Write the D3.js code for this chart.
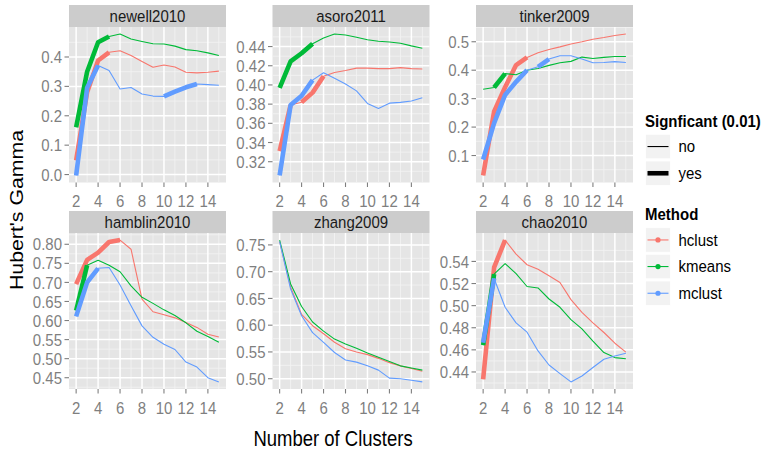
<!DOCTYPE html>
<html><head><meta charset="utf-8">
<script src="https://cdn.jsdelivr.net/npm/d3@7"></script>
<style>body{margin:0;background:#fff} svg{display:block} text{font-family:"Liberation Sans",Arial,Helvetica,sans-serif}</style>
</head><body><svg id="c" width="764" height="453"></svg>
<script>
// ---------- data ----------
const clusters = [2,3,4,5,6,7,8,9,10,11,12,13,14,15];
const studies = ["newell2010","asoro2011","tinker2009","hamblin2010","zhang2009","chao2010"];
const methods = ["hclust","kmeans","mclust"];
const methodColors = ["#F8766D","#00BA38","#619CFF"];
const sigLabels = ["no","yes"];

const newell2010_hclust = [0.048,0.28,0.388,0.416,0.421,0.405,0.385,0.365,0.373,0.366,0.348,0.346,0.348,0.352];
const newell2010_kmeans = [0.161,0.35,0.45,0.47,0.478,0.461,0.453,0.445,0.444,0.437,0.425,0.421,0.414,0.405];
const newell2010_mclust = [-0.003,0.295,0.371,0.354,0.291,0.296,0.274,0.267,0.266,0.282,0.297,0.308,0.306,0.304];
const newell2010_hclust_sig = [2,3,4];
const newell2010_kmeans_sig = [2,3,4];
const newell2010_mclust_sig = [2,3,10,11,12];

const asoro2011_hclust = [0.331,0.379,0.382,0.392,0.409,0.413,0.415,0.4175,0.4175,0.417,0.417,0.418,0.417,0.4166];
const asoro2011_kmeans = [0.397,0.4245,0.433,0.443,0.449,0.453,0.452,0.4496,0.447,0.4455,0.4448,0.4434,0.4407,0.4383];
const asoro2011_mclust = [0.3057,0.379,0.3887,0.405,0.4127,0.407,0.401,0.3938,0.3807,0.3755,0.381,0.3818,0.3832,0.3866];
const asoro2011_hclust_sig = [2,4,5];
const asoro2011_kmeans_sig = [2,3,4];
const asoro2011_mclust_sig = [2,3,4];

const tinker2009_hclust = [0.030,0.255,0.34,0.418,0.445,0.461,0.473,0.482,0.492,0.50,0.509,0.515,0.522,0.527];
const tinker2009_kmeans = [0.333,0.339,0.388,0.384,0.40,0.406,0.417,0.426,0.431,0.446,0.441,0.445,0.448,0.448];
const tinker2009_mclust = [0.086,0.214,0.313,0.359,0.40,0.412,0.439,0.451,0.451,0.439,0.426,0.427,0.43,0.427];
const tinker2009_hclust_sig = [2,3,4,5];
const tinker2009_kmeans_sig = [3];
const tinker2009_mclust_sig = [2,3,4,5,7];

const hamblin2010_hclust = [0.6955,0.759,0.778,0.806,0.811,0.787,0.656,0.623,0.615,0.607,0.595,0.582,0.564,0.557];
const hamblin2010_kmeans = [0.626,0.745,0.758,0.745,0.728,0.691,0.661,0.645,0.628,0.613,0.594,0.572,0.558,0.543];
const hamblin2010_mclust = [0.611,0.70,0.737,0.739,0.693,0.639,0.586,0.556,0.538,0.524,0.491,0.478,0.45,0.439];
const hamblin2010_hclust_sig = [2,3,4,5];
const hamblin2010_kmeans_sig = [2];
const hamblin2010_mclust_sig = [2,3];

const zhang2009_hclust = [0.756,0.671,0.62,0.599,0.584,0.568,0.556,0.55,0.545,0.538,0.53,0.524,0.519,0.514];
const zhang2009_kmeans = [0.759,0.677,0.635,0.606,0.589,0.574,0.565,0.557,0.548,0.540,0.532,0.524,0.520,0.516];
const zhang2009_mclust = [0.756,0.6675,0.6175,0.586,0.568,0.549,0.535,0.531,0.524,0.516,0.501,0.50,0.497,0.494];
const zhang2009_hclust_sig = [];
const zhang2009_kmeans_sig = [];
const zhang2009_mclust_sig = [];

const chao2010_hclust = [0.4334,0.5346,0.5593,0.5466,0.537,0.533,0.527,0.521,0.5054,0.494,0.4844,0.4757,0.466,0.458];
const chao2010_kmeans = [0.4642,0.5285,0.538,0.529,0.5173,0.516,0.506,0.4985,0.4873,0.479,0.468,0.4575,0.453,0.452];
const chao2010_mclust = [0.4666,0.5246,0.4985,0.4844,0.476,0.459,0.4463,0.4385,0.431,0.4364,0.444,0.4515,0.4545,0.457];
const chao2010_hclust_sig = [2,3];
const chao2010_kmeans_sig = [2];
const chao2010_mclust_sig = [2];

const xTicks = [2,4,6,8,10,12,14];
const yTicks = {
  newell2010: ["0.0","0.1","0.2","0.3","0.4"],
  asoro2011: ["0.32","0.34","0.36","0.38","0.40","0.42","0.44"],
  tinker2009: ["0.1","0.2","0.3","0.4","0.5"],
  hamblin2010: ["0.45","0.50","0.55","0.60","0.65","0.70","0.75","0.80"],
  zhang2009: ["0.50","0.55","0.60","0.65","0.70","0.75"],
  chao2010: ["0.44","0.46","0.48","0.50","0.52","0.54"]
};

const seriesTable = {
  newell2010: [[newell2010_hclust,newell2010_hclust_sig],[newell2010_kmeans,newell2010_kmeans_sig],[newell2010_mclust,newell2010_mclust_sig]],
  asoro2011: [[asoro2011_hclust,asoro2011_hclust_sig],[asoro2011_kmeans,asoro2011_kmeans_sig],[asoro2011_mclust,asoro2011_mclust_sig]],
  tinker2009: [[tinker2009_hclust,tinker2009_hclust_sig],[tinker2009_kmeans,tinker2009_kmeans_sig],[tinker2009_mclust,tinker2009_mclust_sig]],
  hamblin2010: [[hamblin2010_hclust,hamblin2010_hclust_sig],[hamblin2010_kmeans,hamblin2010_kmeans_sig],[hamblin2010_mclust,hamblin2010_mclust_sig]],
  zhang2009: [[zhang2009_hclust,zhang2009_hclust_sig],[zhang2009_kmeans,zhang2009_kmeans_sig],[zhang2009_mclust,zhang2009_mclust_sig]],
  chao2010: [[chao2010_hclust,chao2010_hclust_sig],[chao2010_kmeans,chao2010_kmeans_sig],[chao2010_mclust,chao2010_mclust_sig]]
};

// ---------- layout ----------
const SY = 1.15;           // vertical stretch of text seen in reference
const colX = [69, 272.5, 476];
const panelW = 157;
const stripTop = [5, 211];
const stripH = 22;
const panelH = [155.5, 156];
const THIN = 1.1, THICK = 4.6;
const TICKCOL = "#7F7F7F";

const svg = d3.select("#c");

function txt(parent, x, y, s, o = {}) {
  const t = parent.append("text")
    .attr("transform", `translate(${x},${y}) scale(1,${SY})` + (o.rotate ? ` rotate(${o.rotate})` : ""))
    .attr("font-size", o.size || 15)
    .attr("text-anchor", o.anchor || "start")
    .attr("font-weight", o.weight || "normal")
    .attr("fill", o.fill || "#000")
    .text(s);
  return t;
}

function minorBreaks(major, lo, hi) {
  const step = major[1] - major[0];
  const ext = [major[0] - step, ...major, major[major.length - 1] + step];
  const out = [];
  for (let i = 0; i < ext.length - 1; i++) {
    const m = (ext[i] + ext[i + 1]) / 2;
    if (m >= lo && m <= hi) out.push(m);
  }
  return out;
}

studies.forEach((study, si) => {
  const col = si % 3, row = Math.floor(si / 3);
  const x0 = colX[col];
  const sTop = stripTop[row];
  const pTop = sTop + stripH;
  const pH = panelH[row];
  const pBot = pTop + pH;

  const series = seriesTable[study];
  const allVals = series.flatMap(s => s[0]);
  const [mn, mx] = d3.extent(allVals);
  const pad = (mx - mn) * 0.05;
  const y = d3.scaleLinear().domain([mn - pad, mx + pad]).range([pBot, pTop]);
  const xpad = (15 - 2) * 0.05;
  const x = d3.scaleLinear().domain([2 - xpad, 15 + xpad]).range([x0, x0 + panelW]);

  const g = svg.append("g");
  // strip
  g.append("rect").attr("x", x0).attr("y", sTop).attr("width", panelW).attr("height", stripH).attr("fill", "#CCCCCC");
  txt(g, x0 + panelW / 2, sTop + 16.5, study, {anchor: "middle", fill: "#1a1a1a"});
  // panel bg
  g.append("rect").attr("x", x0).attr("y", pTop).attr("width", panelW).attr("height", pH).attr("fill", "#E5E5E5");

  const yMajor = yTicks[study].map(Number);
  const yMinor = minorBreaks(yMajor, y.domain()[0], y.domain()[1]);
  const xMinor = minorBreaks(xTicks, x.domain()[0], x.domain()[1]);

  const grid = g.append("g");
  yMinor.forEach(v => grid.append("line").attr("x1", x0).attr("x2", x0 + panelW).attr("y1", y(v)).attr("y2", y(v)).attr("stroke", "#F2F2F2").attr("stroke-width", 0.9));
  xMinor.forEach(v => grid.append("line").attr("y1", pTop).attr("y2", pBot).attr("x1", x(v)).attr("x2", x(v)).attr("stroke", "#F2F2F2").attr("stroke-width", 0.9));
  yMajor.forEach(v => grid.append("line").attr("x1", x0).attr("x2", x0 + panelW).attr("y1", y(v)).attr("y2", y(v)).attr("stroke", "#FFFFFF").attr("stroke-width", 1.5));
  xTicks.forEach(v => grid.append("line").attr("y1", pTop).attr("y2", pBot).attr("x1", x(v)).attr("x2", x(v)).attr("stroke", "#FFFFFF").attr("stroke-width", 1.5));

  // axes: ticks and labels
  yTicks[study].forEach(lbl => {
    const v = +lbl;
    g.append("line").attr("x1", x0 - 4.5).attr("x2", x0).attr("y1", y(v)).attr("y2", y(v)).attr("stroke", TICKCOL).attr("stroke-width", 1.1);
    txt(g, x0 - 7, y(v) + 6.1, lbl, {anchor: "end", fill: TICKCOL});
  });
  xTicks.forEach(v => {
    g.append("line").attr("x1", x(v)).attr("x2", x(v)).attr("y1", pBot).attr("y2", pBot + 4.5).attr("stroke", TICKCOL).attr("stroke-width", 1.1);
    txt(g, x(v), pBot + 24.5, String(v), {anchor: "middle", fill: TICKCOL});
  });

  // lines
  const clip = "clip" + si;
  g.append("clipPath").attr("id", clip).append("rect").attr("x", x0).attr("y", pTop).attr("width", panelW).attr("height", pH);
  const lg = g.append("g").attr("clip-path", `url(#${clip})`);
  const line = d3.line().x(d => x(d[0])).y(d => y(d[1]));
  series.forEach(([vals, sig], mi) => {
    const pts = clusters.map((c, i) => [c, vals[i]]);
    lg.append("path").attr("d", line(pts)).attr("fill", "none").attr("stroke", methodColors[mi]).attr("stroke-width", THIN).attr("stroke-linejoin", "round");
    // thick runs
    let run = [];
    const runs = [];
    for (let i = 0; i < clusters.length - 1; i++) {
      if (sig.includes(clusters[i])) {
        if (run.length === 0) run.push(pts[i]);
        run.push(pts[i + 1]);
      } else if (run.length) { runs.push(run); run = []; }
    }
    if (run.length) runs.push(run);
    runs.forEach(r => lg.append("path").attr("d", line(r)).attr("fill", "none").attr("stroke", methodColors[mi]).attr("stroke-width", THICK).attr("stroke-linejoin", "round").attr("stroke-linecap", "butt"));
  });
});

// axis titles
txt(svg, 333, 446, "Number of Clusters", {anchor: "middle", size: 18.5});
svg.append("text")
  .attr("transform", `translate(23,210) scale(1,${SY}) rotate(-90)`)
  .attr("font-size", 18.5).attr("text-anchor", "middle").attr("fill", "#000")
  .text("Hubert's Gamma");

// legend
const lgd = svg.append("g");
const keyX = 645.5, keyW = 25, keyH = 24.5;
txt(lgd, 645, 126.5, "Signficant (0.01)", {weight: "bold"});
const sigKeyY = [134.3, 161];
const sigWidths = [THIN, THICK];
sigLabels.forEach((lbl, i) => {
  lgd.append("rect").attr("x", keyX).attr("y", sigKeyY[i]).attr("width", keyW).attr("height", keyH).attr("fill", "#F2F2F2").attr("stroke", "#fff").attr("stroke-width", 0.8);
  lgd.append("line").attr("x1", keyX + 2).attr("x2", keyX + keyW - 2).attr("y1", sigKeyY[i] + keyH / 2).attr("y2", sigKeyY[i] + keyH / 2).attr("stroke", "#000").attr("stroke-width", sigWidths[i]);
  txt(lgd, 678.5, sigKeyY[i] + keyH / 2 + 5.8, lbl);
});
txt(lgd, 645, 220, "Method", {weight: "bold"});
const mKeyY = [227.7, 254.3, 281];
methods.forEach((m, i) => {
  lgd.append("rect").attr("x", keyX).attr("y", mKeyY[i]).attr("width", keyW).attr("height", keyH).attr("fill", "#F2F2F2").attr("stroke", "#fff").attr("stroke-width", 0.8);
  lgd.append("line").attr("x1", keyX + 2).attr("x2", keyX + keyW - 2).attr("y1", mKeyY[i] + keyH / 2).attr("y2", mKeyY[i] + keyH / 2).attr("stroke", methodColors[i]).attr("stroke-width", THIN);
  lgd.append("ellipse").attr("cx", keyX + keyW / 2).attr("cy", mKeyY[i] + keyH / 2).attr("rx", 2.6).attr("ry", 2.6).attr("fill", methodColors[i]);
  txt(lgd, 678.5, mKeyY[i] + keyH / 2 + 5.8, m);
});
</script>
</body></html>
